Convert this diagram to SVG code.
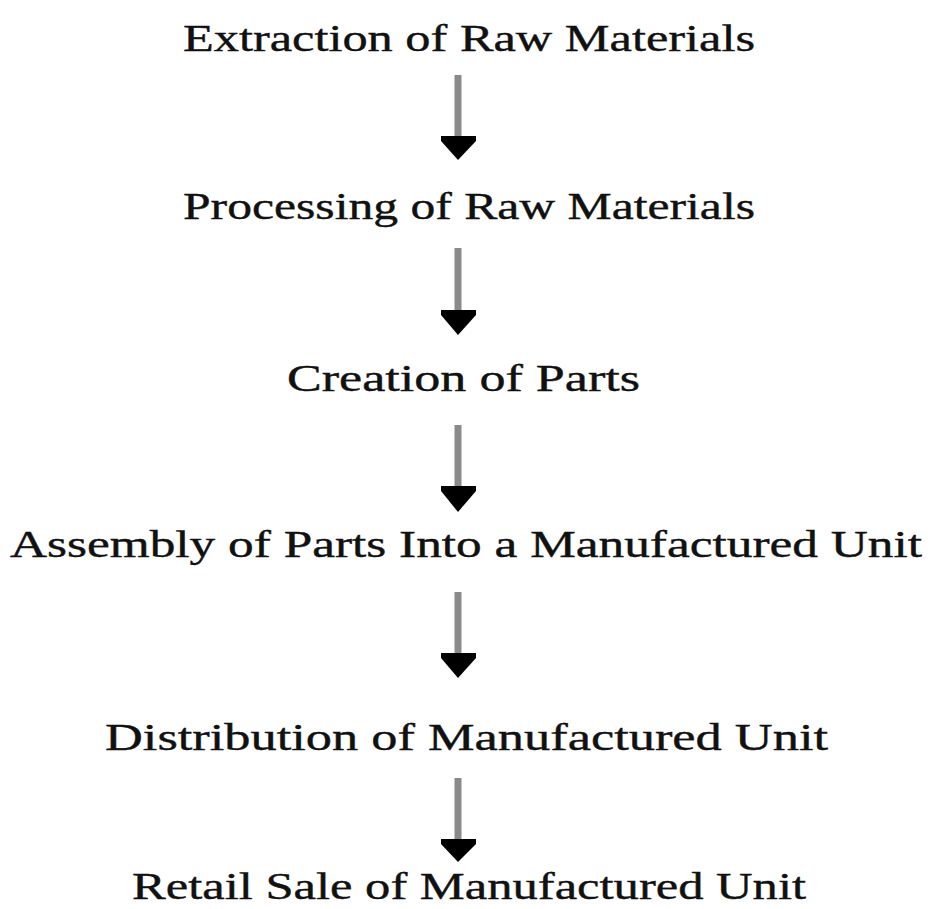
<svg xmlns="http://www.w3.org/2000/svg" width="931" height="909" viewBox="0 0 931 909">
<style>
.t{font-family:"Liberation Serif","Times New Roman",serif;font-size:38px;fill:#111;stroke:#111;stroke-width:0.4;}
.s{stroke:#8a8a8a;stroke-width:7;}
.h{fill:#000;}
</style>
<rect width="931" height="909" fill="#fff"/>
<g id="connectors">
<line class="s" x1="458" y1="75" x2="458" y2="138"/><polygon class="h" points="441,136 476,136 476,141 458,160 441,141"/>
<line class="s" x1="458" y1="248" x2="458" y2="312"/><polygon class="h" points="441,310 476,310 476,315 458,335 441,315"/>
<line class="s" x1="458" y1="425" x2="458" y2="488"/><polygon class="h" points="441,486 476,486 476,491 458,512 441,491"/>
<line class="s" x1="458" y1="592" x2="458" y2="655"/><polygon class="h" points="441,653 476,653 476,658 458,678 441,658"/>
<line class="s" x1="458" y1="778" x2="458" y2="841"/><polygon class="h" points="441,839 476,839 476,844 458,862 441,844"/>
</g>
<g id="n1"><text class="t" x="183" y="51" textLength="572" lengthAdjust="spacingAndGlyphs">Extraction of Raw Materials</text></g>
<g id="n2"><text class="t" x="183" y="219" textLength="572" lengthAdjust="spacingAndGlyphs">Processing of Raw Materials</text></g>
<g id="n3"><text class="t" x="287" y="391" textLength="353" lengthAdjust="spacingAndGlyphs">Creation of Parts</text></g>
<g id="n4"><text class="t" x="10" y="557" textLength="912" lengthAdjust="spacingAndGlyphs">Assembly of Parts Into a Manufactured Unit</text></g>
<g id="n5"><text class="t" x="105" y="750" textLength="723" lengthAdjust="spacingAndGlyphs">Distribution of Manufactured Unit</text></g>
<g id="n6"><text class="t" x="132" y="899" textLength="674" lengthAdjust="spacingAndGlyphs">Retail Sale of Manufactured Unit</text></g>
</svg>
